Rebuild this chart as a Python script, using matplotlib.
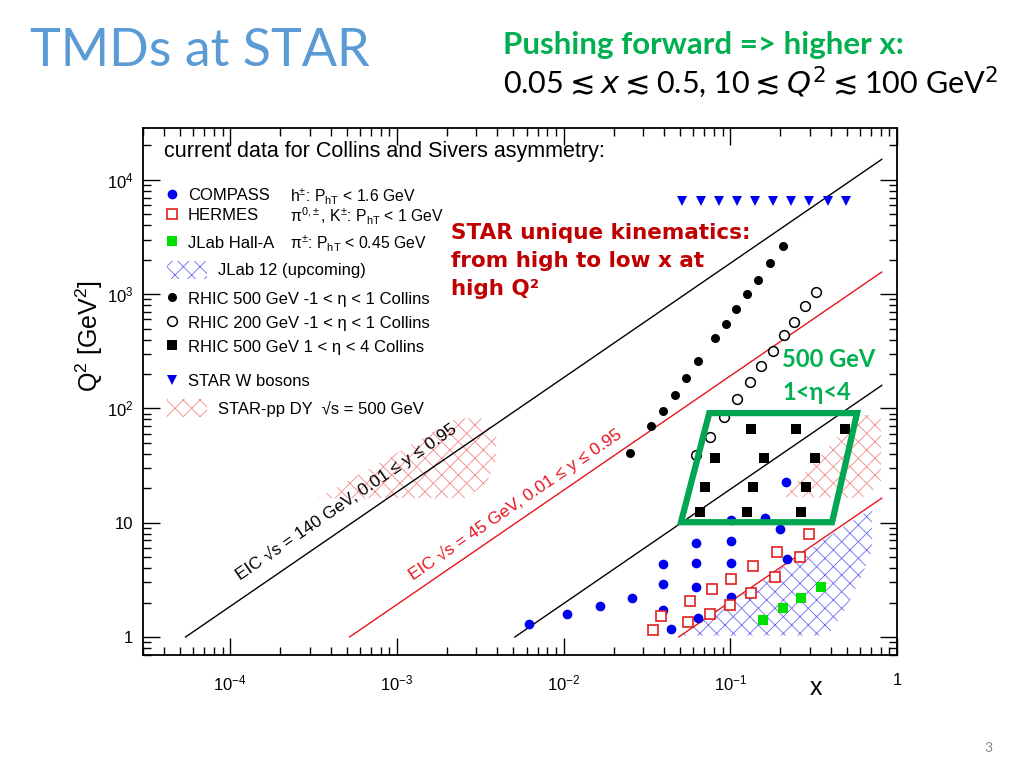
import numpy as np
import matplotlib
matplotlib.use("Agg")
import matplotlib.pyplot as plt
from matplotlib.patches import Polygon, Rectangle
from matplotlib.lines import Line2D
from matplotlib.ticker import NullFormatter

plt.rcParams.update({
    'font.family': ['Liberation Sans', 'DejaVu Sans'],
    'mathtext.fontset': 'custom',
    'mathtext.rm': 'Liberation Sans',
    'mathtext.it': 'Liberation Sans:italic',
    'mathtext.bf': 'Liberation Sans:bold',
    'hatch.linewidth': 0.6,
})

# ---- data (x, Q^2 in GeV^2) ----
compass_x = [0.0062, 0.0105, 0.0165, 0.0257, 0.0397, 0.0397, 0.0397, 0.044,
             0.0624, 0.0624, 0.0624, 0.0638, 0.101, 0.101, 0.101, 0.101,
             0.162, 0.198, 0.215, 0.218]
compass_q2 = [1.30, 1.60, 1.88, 2.21, 4.33, 2.91, 1.74, 1.17,
              6.64, 4.47, 2.73, 1.48, 10.6, 6.88, 4.44, 2.22,
              10.9, 8.88, 22.5, 4.81]

hermes_x = [0.0342, 0.0383, 0.0554, 0.0572, 0.0759, 0.0775, 0.099, 0.1008,
            0.1323, 0.1365, 0.1845, 0.191, 0.2603, 0.295]
hermes_q2 = [1.15, 1.52, 1.34, 2.05, 1.60, 2.61, 1.89, 3.21,
             2.45, 4.18, 3.37, 5.55, 4.99, 7.89]

jlab_x = [0.157, 0.207, 0.267, 0.351]
jlab_q2 = [1.41, 1.79, 2.19, 2.73]

rhic500_x = [0.0251, 0.0333, 0.0393, 0.0463, 0.0545, 0.0643, 0.0809,
             0.0937, 0.1086, 0.1259, 0.1473, 0.1731, 0.2063]
rhic500_q2 = [40.5, 70.1, 95.7, 132, 185, 260, 412, 543, 740, 995, 1337, 1862, 2625]

rhic200_x = [0.0621, 0.0759, 0.092, 0.110, 0.1306, 0.1535, 0.1795,
             0.211, 0.241, 0.282, 0.325]
rhic200_q2 = [38.8, 55.8, 83.7, 121, 170, 236, 320, 442, 574, 787, 1052]

fwd_x = [0.1332, 0.2483, 0.488, 0.0815, 0.159, 0.3243,
         0.0708, 0.136, 0.2858, 0.0655, 0.126, 0.264]
fwd_q2 = [65.4, 65.4, 65.4, 37.0, 37.0, 37.0,
          20.7, 20.7, 20.7, 12.5, 12.5, 12.5]

w_x = [0.0516, 0.0665, 0.0855, 0.1097, 0.1406, 0.1803, 0.232, 0.298, 0.383, 0.495]
w_q2 = [6464] * 10

# EIC kinematic limits (end points)
eic140_hi_x, eic140_hi_q2 = [5.4e-5, 0.81], [1.0, 15100]
eic140_lo_x, eic140_lo_q2 = [5.1e-3, 0.81], [1.0, 159]
eic45_hi_x, eic45_hi_q2 = [5.2e-4, 0.81], [1.0, 1560]
eic45_lo_x, eic45_lo_q2 = [0.049, 0.81], [1.0, 16.4]

# hatched regions
jlab12_x = [0.050, 0.709, 0.709, 0.598, 0.497, 0.386]
jlab12_q2 = [1.03, 13.5, 5.75, 3.13, 1.83, 1.03]
dy_lo_x = [3.38e-4, 2.28e-3, 3.21e-3, 3.95e-3, 3.95e-3, 3.44e-3, 2.61e-3]
dy_lo_q2 = [16.4, 81.9, 81.9, 60.5, 35.4, 22.1, 16.4]
dy_hi_x = [0.208, 0.576, 0.802, 0.802, 0.609]
dy_hi_q2 = [16.8, 87.5, 87.5, 21.4, 16.4]

# STAR forward box
box_x = [0.0506, 0.408, 0.576, 0.0748]
box_q2 = [10.1, 10.1, 91, 91]

xticks = [1e-4, 1e-3, 1e-2, 1e-1, 1]
xticklabels = [r'$10^{-4}$', r'$10^{-3}$', r'$10^{-2}$', r'$10^{-1}$', '1']
yticks = [1, 10, 100, 1e3, 1e4]
yticklabels = ['1', '10', r'$10^{2}$', r'$10^{3}$', r'$10^{4}$']

W, H = 1024, 768


def fx(px):
    return px / W


def fy(py):
    return 1 - py / H


def main():
    fig = plt.figure(figsize=(10.24, 7.68), dpi=100)
    ax = fig.add_axes([fx(143), fy(655), (897 - 143) / W, (655 - 128) / H])
    ax.set_xscale('log')
    ax.set_yscale('log')
    ax.set_xlim(3.0e-5, 1.0)
    ax.set_ylim(0.696, 28400)

    # hatched regions
    ax.add_patch(Polygon(np.column_stack([jlab12_x, jlab12_q2]), closed=True,
                         facecolor='none', edgecolor='#6a6af0', hatch='xx', lw=0))
    for xs, qs in [(dy_lo_x, dy_lo_q2), (dy_hi_x, dy_hi_q2)]:
        ax.add_patch(Polygon(np.column_stack([xs, qs]), closed=True,
                             facecolor='none', edgecolor='#f28a8a', hatch='xx', lw=0))

    # EIC lines
    ax.plot(eic140_hi_x, eic140_hi_q2, color='black', lw=1)
    ax.plot(eic140_lo_x, eic140_lo_q2, color='black', lw=1)
    ax.plot(eic45_hi_x, eic45_hi_q2, color='#e8141e', lw=1)
    ax.plot(eic45_lo_x, eic45_lo_q2, color='#e8141e', lw=1)

    # data points
    ax.plot(compass_x, compass_q2, 'o', color='#0000f0', ms=7, mew=0)
    ax.plot(hermes_x, hermes_q2, 's', mfc='white', mec='#e02020', ms=7.5, mew=1.2)
    ax.plot(jlab_x, jlab_q2, 's', color='#00e000', ms=7, mew=0)
    ax.plot(rhic500_x, rhic500_q2, 'o', color='black', ms=6.5, mew=0)
    ax.plot(rhic200_x, rhic200_q2, 'o', mfc='white', mec='black', ms=7, mew=1.1)
    ax.plot(fwd_x, fwd_q2, 's', color='black', ms=6.5, mew=0)
    ax.plot(w_x, w_q2, 'v', color='#0000f0', ms=6.8, mew=0)

    ax.add_patch(Polygon(np.column_stack([box_x, box_q2]), closed=True,
                         fill=False, edgecolor='#00a651', lw=4.5, zorder=5))

    # rotated EIC labels
    for xs, qs, lx, lq, txt, col in [
        (eic140_hi_x, eic140_hi_q2, 1.15e-4, 3.15,
         'EIC √s = 140 GeV, 0.01 ≤ y ≤ 0.95', 'black'),
        (eic45_hi_x, eic45_hi_q2, 1.25e-3, 3.15,
         'EIC √s = 45 GeV, 0.01 ≤ y ≤ 0.95', '#e8141e'),
    ]:
        p0 = ax.transData.transform((xs[0], qs[0]))
        p1 = ax.transData.transform((xs[1], qs[1]))
        ang = np.degrees(np.arctan2(p1[1] - p0[1], p1[0] - p0[0]))
        ax.text(lx, lq, txt, rotation=ang, rotation_mode='anchor',
                ha='left', va='baseline', fontsize=12.5, color=col)

    # axes style (ROOT like)
    for s in ax.spines.values():
        s.set_linewidth(1.3)
    ax.tick_params(which='both', direction='in', top=True, right=True, width=1)
    ax.tick_params(which='major', length=12, labelsize=12)
    ax.tick_params(which='minor', length=6)
    ax.tick_params(axis='x', which='major', pad=13)
    ax.tick_params(axis='y', which='major', pad=7)
    ax.set_xticks(xticks, xticklabels)
    ax.set_yticks(yticks, yticklabels)
    ax.xaxis.set_minor_formatter(NullFormatter())
    ax.yaxis.set_minor_formatter(NullFormatter())

    ax.set_xlabel('x', fontsize=18)
    ax.xaxis.set_label_coords(0.8926, -0.04)
    ax.set_ylabel(r'Q$^{2}$ [GeV$^{2}$]', fontsize=18)
    ax.yaxis.set_label_coords(-0.05, 0.605)

    # hand-made legend
    fig.text(fx(164), fy(152), 'current data for Collins and Sivers asymmetry:',
             fontsize=15.5, va='center')
    lfs = 12
    legend_rows = [
        (195, dict(marker='o', color='#0000f0', ms=7, mew=0), 'COMPASS',
         r'h$^{\pm}$: P$_{\rm hT}$ < 1.6 GeV'),
        (215, dict(marker='s', mfc='white', mec='#e02020', ms=7.5, mew=1.2), 'HERMES',
         r'π$^{0,\!\pm}$, K$^{\pm}$: P$_{\rm hT}$ < 1 GeV'),
        (242, dict(marker='s', color='#00e000', ms=7, mew=0), 'JLab Hall-A',
         r'π$^{\pm}$: P$_{\rm hT}$ < 0.45 GeV'),
        (298, dict(marker='o', color='black', ms=6.5, mew=0),
         'RHIC 500 GeV -1 < η < 1 Collins', None),
        (322, dict(marker='o', mfc='white', mec='black', ms=7, mew=1.1),
         'RHIC 200 GeV -1 < η < 1 Collins', None),
        (346, dict(marker='s', color='black', ms=6.5, mew=0),
         'RHIC 500 GeV 1 < η < 4 Collins', None),
        (381, dict(marker='v', color='#0000f0', ms=6.8, mew=0), 'STAR W bosons', None),
    ]
    for py, mk, label, extra in legend_rows:
        fig.add_artist(Line2D([fx(172)], [fy(py - 1)], transform=fig.transFigure,
                              linestyle='none', **mk))
        fig.text(fx(188), fy(py + 1), label, fontsize=lfs, va='center')
        if extra:
            fig.text(fx(290), fy(py + 1), extra, fontsize=11.3, va='center')
    for py, col, label in [(270, '#6a6af0', 'JLab 12 (upcoming)'),
                           (408, '#f28a8a', 'STAR-pp DY  √s = 500 GeV')]:
        fig.add_artist(Rectangle((fx(167), fy(py + 9)), 40 / W, 18 / H,
                                 transform=fig.transFigure, facecolor='none',
                                 edgecolor=col, hatch='xx', lw=0))
        fig.text(fx(218), fy(py + 1), label, fontsize=lfs, va='center')

    # annotations
    fig.text(fx(451), fy(261), 'STAR unique kinematics:\nfrom high to low x at\nhigh Q²',
             family=['DejaVu Sans'], fontweight='bold', fontsize=15.5,
             color='#c00000', va='center', linespacing=1.5)
    fig.text(fx(782), fy(376), '500 GeV\n1<η<4', family=['Lato', 'DejaVu Sans'],
             fontweight='bold', fontsize=17, color='#00b050', va='center',
             linespacing=1.5)

    # slide header
    fig.text(fx(30), fy(51), 'TMDs at STAR', family=['Lato', 'DejaVu Sans'],
             fontsize=37.5, color='#5b9bd5', va='center')
    fig.text(fx(503), fy(45), 'Pushing forward => higher x:',
             family=['Lato', 'DejaVu Sans'], fontweight='bold', fontsize=22.5,
             color='#00b050', va='center')
    fig.text(fx(503), fy(82),
             r'0.05$\lesssim x\lesssim$0.5, 10$\lesssim Q^2\lesssim$100 GeV$^2$',
             family=['Lato', 'DejaVu Sans'], math_fontfamily='dejavusans',
             fontsize=22, va='center')
    fig.text(fx(988), fy(748), '3', family=['Lato'], fontsize=10,
             color='#888888', ha='center', va='center')

    fig.savefig('out.png', dpi=100)


if __name__ == "__main__":
    main()
